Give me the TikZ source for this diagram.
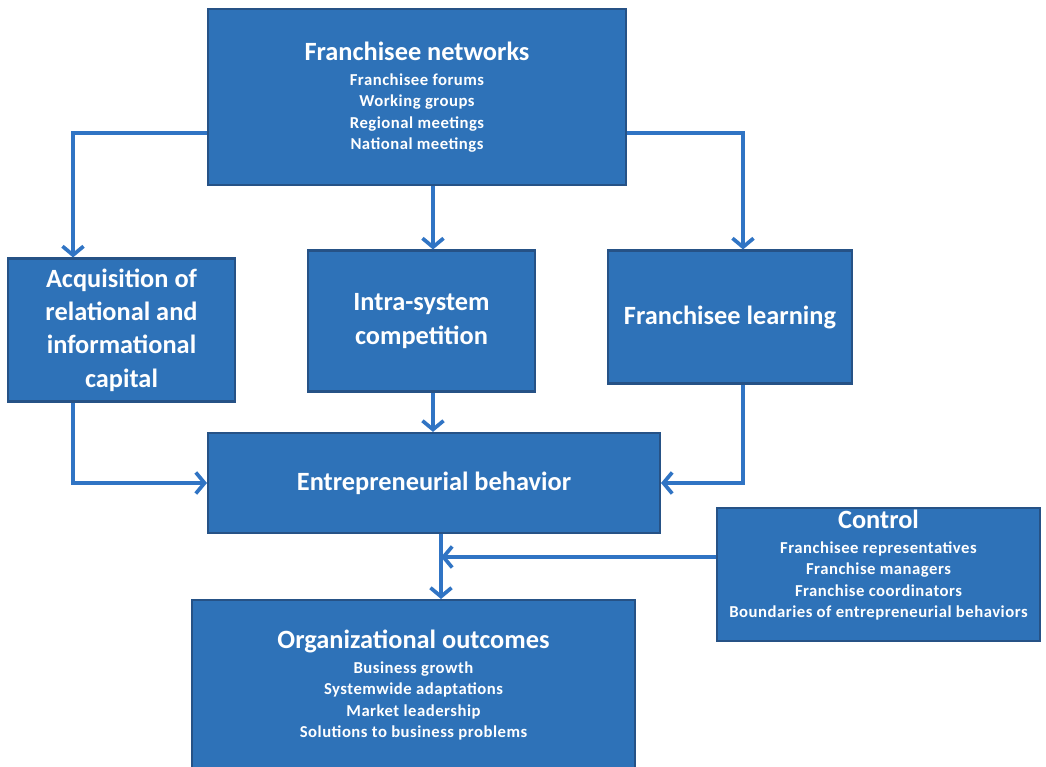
\documentclass[tikz,border=0pt]{standalone}
\usepackage{fontspec}
\setmainfont{Carlito}
\newfontfamily\itemfamily[LetterSpace=3]{Carlito}
\usetikzlibrary{arrows.meta}
\definecolor{boxblue}{RGB}{46,114,184}
\definecolor{boxedge}{RGB}{38,82,134}
\definecolor{flowblue}{RGB}{48,116,196}
\newcommand{\titlesize}{\rmfamily\fontsize{15}{19}\selectfont\bfseries}
\newcommand{\itemsize}{\itemfamily\fontsize{9.5}{12.2}\selectfont\bfseries}
\begin{document}
\begin{tikzpicture}[x=0.02cm, y=-0.02cm,
  block/.style={draw=boxedge, line width=1.2pt, fill=boxblue, text=white, align=center, inner sep=0pt, font=\titlesize},
  listblock/.style={block, font=\itemsize},
  flow/.style={draw=flowblue, line width=2.1pt, -{Straight Barb[length=5pt, width=12pt, line width=2.1pt]}}]
\useasboundingbox (0,0) rectangle (1046,767);
\node [listblock, minimum width=8.36cm, minimum height=3.52cm] (net) at (417,97)
  {\titlesize Franchisee networks\\[2pt] Franchisee forums\\ Working groups\\ Regional meetings\\ National meetings};
\node [block, minimum width=4.54cm, minimum height=2.86cm] (acq) at (121.5,330)
  {Acquisition of\\ relational and\\ informational\\ capital};
\node [block, minimum width=4.54cm, minimum height=2.82cm] (intra) at (421.5,321)
  {Intra-system\\ competition};
\node [block, minimum width=4.88cm, minimum height=2.66cm] (learn) at (730,317)
  {Franchisee learning};
\node [block, minimum width=9.04cm, minimum height=2cm] (entre) at (434,483)
  {Entrepreneurial behavior};
\node [listblock, minimum width=6.46cm, minimum height=2.66cm, text depth=12pt] (ctrl) at (878.5,574.5)
  {\titlesize Control\\[2pt] Franchisee representatives\\ Franchise managers\\ Franchise coordinators\\ Boundaries of entrepreneurial behaviors};
\node [listblock, minimum width=8.86cm, minimum height=3.4cm] (outc) at (413.5,685)
  {\titlesize Organizational outcomes\\[2pt] Business growth\\ Systemwide adaptations\\ Market leadership\\ Solutions to business problems};
\coordinate (join) at ([xshift=0.14cm]entre.south);
\draw [flow] ([yshift=-0.72cm]net.west) -| ([xshift=-0.97cm]acq.north);
\draw [flow] ([xshift=0.32cm]net.south) -- ([xshift=0.32cm]net.south |- intra.north);
\draw [flow] ([yshift=-0.72cm]net.east) -| ([xshift=0.26cm]learn.north);
\draw [flow] ([xshift=-0.97cm]acq.south) |- (entre.west);
\draw [flow] ([xshift=0.23cm]intra.south) -- ([xshift=0.23cm]intra.south |- entre.north);
\draw [flow] ([xshift=0.26cm]learn.south) |- (entre.east);
\draw [flow] (join) -- (join |- outc.north);
\draw [flow] ([yshift=0.35cm]ctrl.west) -- ([yshift=0.35cm]ctrl.west -| join);
\end{tikzpicture}
\end{document}
